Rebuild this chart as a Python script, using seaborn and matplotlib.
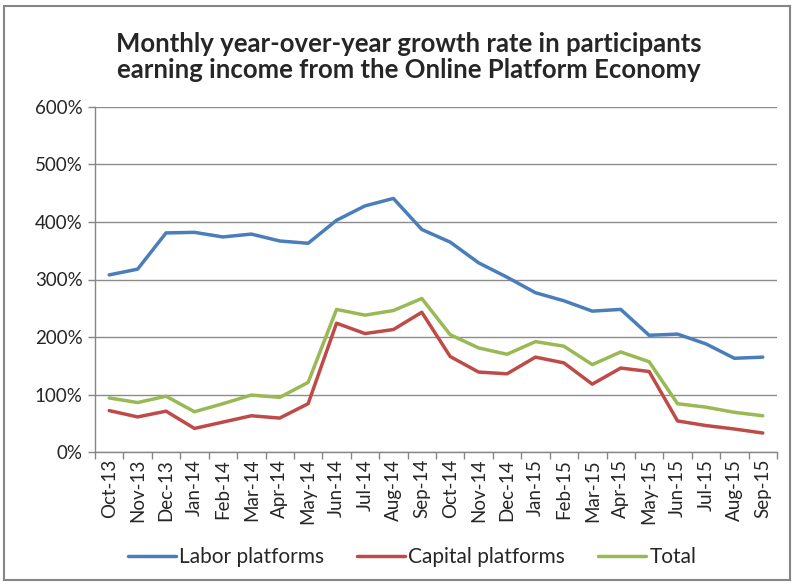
import seaborn as sns
import pandas as pd
import matplotlib.pyplot as plt
from matplotlib.patches import Rectangle

months = ['Oct-13', 'Nov-13', 'Dec-13', 'Jan-14', 'Feb-14', 'Mar-14', 'Apr-14', 'May-14',
          'Jun-14', 'Jul-14', 'Aug-14', 'Sep-14', 'Oct-14', 'Nov-14', 'Dec-14', 'Jan-15',
          'Feb-15', 'Mar-15', 'Apr-15', 'May-15', 'Jun-15', 'Jul-15', 'Aug-15', 'Sep-15']
labor = [308, 318, 381, 382, 374, 379, 367, 363, 403, 428, 441, 387,
         365, 329, 304, 277, 263, 245, 248, 203, 205, 188, 163, 165]
capital = [72, 61, 71, 41, 52, 63, 59, 84, 224, 206, 213, 243,
           166, 139, 136, 165, 155, 118, 146, 140, 54, 46, 40, 33]
total = [94, 86, 97, 70, 84, 99, 95, 121, 248, 238, 246, 267,
         204, 181, 170, 192, 184, 152, 174, 157, 84, 78, 69, 63]

series = ['Labor platforms', 'Capital platforms', 'Total']
colors = ['#4A7EBB', '#BE4B48', '#98B954']

df = pd.DataFrame({'month': months, 'Labor platforms': labor,
                   'Capital platforms': capital, 'Total': total})
df['pos'] = range(len(months))
long = df.melt(id_vars=['month', 'pos'], value_vars=series, var_name='series', value_name='growth')

sns.set_style('white')
plt.rcParams['font.family'] = ['Lato', 'DejaVu Sans']

fig = plt.figure(figsize=(7.94, 5.84), dpi=100)
ax = fig.add_axes([95 / 794, 1 - 452 / 584, 682 / 794, 345 / 584])

sns.lineplot(data=long, x='pos', y='growth', hue='series', hue_order=series,
             palette=colors, linewidth=2.5, ax=ax)

ax.set_xlim(-0.5, len(months) - 0.5)
ax.set_ylim(0, 600)
ax.set_yticks(range(0, 601, 100))
ax.set_yticklabels([f'{v}%' for v in range(0, 601, 100)], fontsize=13.5)
ax.set_xticks(range(len(months)))
ax.set_xticklabels(months, rotation=90, fontsize=13.5)
ax.set_xticks([i - 0.5 for i in range(len(months) + 1)], minor=True)
ax.tick_params(axis='x', which='major', length=0, pad=5)
ax.tick_params(axis='x', which='minor', length=5, color='#868686', width=1, direction='out', bottom=True)
ax.tick_params(axis='y', length=5, color='#868686', width=1, direction='out', left=True, pad=4)
ax.grid(axis='y', color='#8c8c8c', linewidth=1)
ax.set_axisbelow(True)
for side in ['top', 'right']:
    ax.spines[side].set_visible(False)
for side in ['left', 'bottom']:
    ax.spines[side].set_color('#868686')
    ax.spines[side].set_linewidth(1)
ax.set_xlabel('')
ax.set_ylabel('')

leg = ax.legend(loc='center', ncol=3, frameon=False,
                fontsize=15, handlelength=2.3, columnspacing=1.6, handletextpad=0.15)
leg.set_bbox_to_anchor((412 / 794, 1 - 557 / 584), transform=fig.transFigure)

fig.text(409 / 794, 1 - 57 / 584, 'Monthly year-over-year growth rate in participants\nearning income from the Online Platform Economy',
         ha='center', va='center', fontsize=18.5, fontweight='bold', linespacing=1.15)

fig.patches.append(Rectangle((4 / 794, 4 / 584), 1 - 8 / 794, 1 - 10 / 584, transform=fig.transFigure,
                             fill=False, edgecolor='#868686', linewidth=1.5))

fig.savefig('out.png', dpi=100)
